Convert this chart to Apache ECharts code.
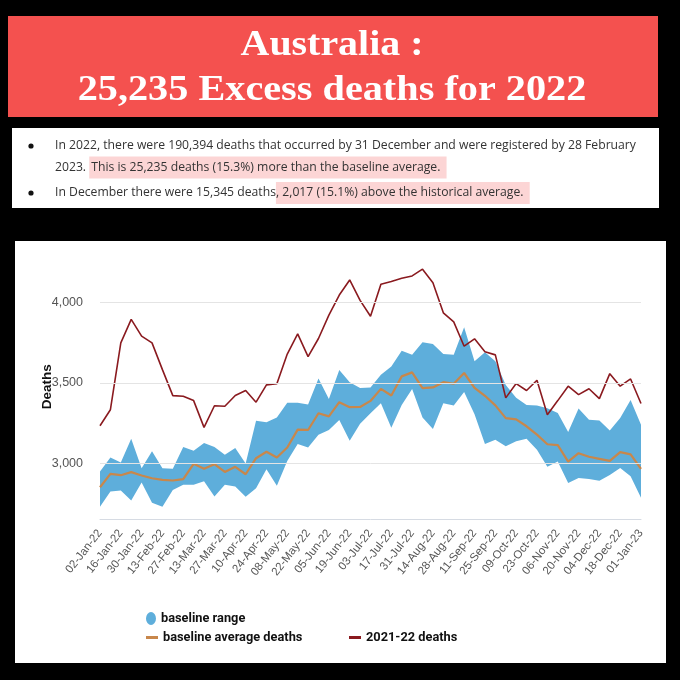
<!DOCTYPE html>
<html>
<head>
<meta charset="utf-8">
<script src="https://cdn.jsdelivr.net/npm/echarts@6/dist/echarts.min.js"></script>
<style>html,body{margin:0;padding:0;background:#000;}#c{width:680px;height:680px;}</style>
</head>
<body>
<div id="c"></div>
<script>
var weeks = ['02-Jan-22','09-Jan-22','16-Jan-22','23-Jan-22','30-Jan-22','06-Feb-22','13-Feb-22','20-Feb-22','27-Feb-22','06-Mar-22','13-Mar-22','20-Mar-22','27-Mar-22','03-Apr-22','10-Apr-22','17-Apr-22','24-Apr-22','01-May-22','08-May-22','15-May-22','22-May-22','29-May-22','05-Jun-22','12-Jun-22','19-Jun-22','26-Jun-22','03-Jul-22','10-Jul-22','17-Jul-22','24-Jul-22','31-Jul-22','07-Aug-22','14-Aug-22','21-Aug-22','28-Aug-22','04-Sep-22','11-Sep-22','18-Sep-22','25-Sep-22','02-Oct-22','09-Oct-22','16-Oct-22','23-Oct-22','30-Oct-22','06-Nov-22','13-Nov-22','20-Nov-22','27-Nov-22','04-Dec-22','11-Dec-22','18-Dec-22','25-Dec-22','01-Jan-23'];

var deaths2022 = [3233,3333,3750,3896,3792,3750,3583,3421,3417,3390,3223,3358,3355,3422,3453,3380,3488,3495,3680,3806,3664,3777,3923,4048,4142,4015,3916,4115,4132,4152,4167,4209,4125,3937,3881,3729,3775,3695,3675,3407,3496,3453,3517,3302,3390,3480,3427,3464,3402,3558,3480,3525,3372];

var baselineAvg = [2850,2933,2925,2944,2923,2906,2896,2892,2900,2996,2965,2994,2945,2977,2931,3031,3071,3035,3098,3209,3207,3311,3292,3380,3349,3350,3388,3463,3422,3541,3566,3468,3472,3505,3495,3562,3470,3420,3360,3281,3273,3230,3178,3118,3112,3010,3062,3040,3027,3014,3069,3055,2965];

var baselineUpper = [2948,3036,3004,3152,2969,3075,2969,2965,3100,3077,3125,3100,3052,3094,2998,3265,3255,3284,3376,3376,3365,3527,3400,3580,3505,3468,3472,3551,3603,3701,3676,3754,3743,3681,3676,3847,3635,3692,3635,3487,3407,3362,3360,3342,3313,3195,3341,3270,3266,3204,3282,3393,3240];

var baselineLower = [2729,2823,2829,2767,2879,2754,2729,2833,2865,2865,2888,2792,2865,2854,2791,2844,2962,2859,3014,3119,3098,3177,3207,3269,3140,3246,3311,3374,3221,3363,3463,3284,3213,3374,3359,3444,3305,3119,3146,3105,3136,3152,3084,2977,3011,2877,2907,2902,2890,2927,2970,2918,2784];

var yTicks = [3000, 3500, 4000];

var titleLine1 = 'Australia :';
var titleLine2 = '25,235 Excess deaths for 2022';

var bandSpan = baselineUpper.map(function (u, i) { return u - baselineLower[i]; });

var chart = echarts.init(document.getElementById('c'));

var legendText = { fontFamily: 'Roboto, Liberation Sans, Arial', fontSize: 12.8, fontWeight: 'bold', color: '#111' };
var bodyFont = '12.2px "Open Sans", sans-serif';
var titleFont = 'bold 35px "Liberation Serif", "DejaVu Serif", serif';

chart.setOption({
  backgroundColor: '#000',
  animation: false,
  graphic: [
    { type: 'rect', z: 0, shape: { x: 8, y: 16, width: 650, height: 101 }, style: { fill: '#f4514f' } },
    { type: 'text', z: 1, x: 332, y: 46, scaleX: 1.14, style: { text: titleLine1, fill: '#fff', font: titleFont, align: 'center', verticalAlign: 'middle' } },
    { type: 'text', z: 1, x: 332, y: 91, scaleX: 1.15, style: { text: titleLine2, fill: '#fff', font: titleFont, align: 'center', verticalAlign: 'middle' } },
    { type: 'rect', z: 0, shape: { x: 12, y: 128, width: 647, height: 80 }, style: { fill: '#fff' } },
    { type: 'circle', z: 1, shape: { cx: 31, cy: 146, r: 2.6 }, style: { fill: '#111' } },
    { type: 'circle', z: 1, shape: { cx: 31, cy: 193, r: 2.6 }, style: { fill: '#111' } },
    { type: 'text', z: 1, x: 55, y: 146, style: { text: 'In 2022, there were 190,394 deaths that occurred by 31 December and were registered by 28 February', fill: '#333', font: bodyFont, verticalAlign: 'middle' } },
    { type: 'text', z: 1, x: 55, y: 167.5, style: { text: '2023. {h|This is 25,235 deaths (15.3%) more than the baseline average. }', fill: '#333', font: bodyFont, verticalAlign: 'middle',
      rich: { h: { backgroundColor: '#fcd5d5', padding: [5, 3, 5, 2], fill: '#333', font: bodyFont } } } },
    { type: 'text', z: 1, x: 55, y: 193, style: { text: 'In December there were 15,345 deaths{h|, 2,017 (15.1%) above the historical average. }', fill: '#333', font: bodyFont, verticalAlign: 'middle',
      rich: { h: { backgroundColor: '#fcd5d5', padding: [5, 3, 5, 0], fill: '#333', font: bodyFont } } } },
    { type: 'rect', z: 0, shape: { x: 15, y: 241, width: 651, height: 422 }, style: { fill: '#fff' } }
  ],
  legend: [
    { left: 141, top: 607, icon: 'path://M5,0 A5,6.5 0 1,1 5,13 A5,6.5 0 1,1 5,0 Z', itemWidth: 10, itemHeight: 13, itemGap: 0, data: ['baseline range'], textStyle: legendText, selectedMode: false },
    { left: 141, top: 626, icon: 'rect', itemWidth: 12, itemHeight: 3, data: ['baseline average deaths'], textStyle: legendText, selectedMode: false },
    { left: 344, top: 626, icon: 'rect', itemWidth: 12, itemHeight: 3, data: ['2021-22 deaths'], textStyle: legendText, selectedMode: false }
  ],
  grid: { left: 100, right: 39, top: 254.6, height: 264.4 },
  xAxis: {
    type: 'category',
    data: weeks,
    boundaryGap: false,
    axisLine: { show: true, lineStyle: { color: '#d6dbe3', width: 1 } },
    axisTick: { show: false },
    axisLabel: { interval: 1, rotate: 52, fontSize: 11.5, color: '#555', margin: 12, fontFamily: 'Liberation Sans, Arial' }
  },
  yAxis: {
    type: 'value',
    min: 2652,
    max: 4300,
    splitLine: { show: false },
    axisLine: { show: false },
    axisTick: { show: false },
    axisLabel: {
      customValues: yTicks,
      color: '#555',
      fontSize: 12.5,
      margin: 17,
      fontFamily: 'Liberation Sans, Arial',
      formatter: function (v) { return v.toLocaleString('en-US'); }
    },
    name: 'Deaths',
    nameLocation: 'middle',
    nameGap: 46,
    nameMoveOverlap: false,
    nameTextStyle: { fontWeight: 'bold', fontSize: 13.5, color: '#111', fontFamily: 'Liberation Sans, Arial' }
  },
  series: [
    {
      type: 'line', stack: 'band', data: baselineLower, symbol: 'none', silent: true,
      lineStyle: { opacity: 0 }, areaStyle: { opacity: 0 },
      markLine: {
        silent: true, symbol: 'none', label: { show: false },
        lineStyle: { color: '#e4e4e4', width: 1, type: 'solid' },
        data: yTicks.map(function (t) { return { yAxis: t }; })
      }
    },
    {
      name: 'baseline range', type: 'line', stack: 'band', data: bandSpan, symbol: 'none', silent: true,
      itemStyle: { color: '#5eaedb' },
      lineStyle: { opacity: 0 }, areaStyle: { color: '#5eaedb', opacity: 1 }
    },
    {
      name: 'baseline average deaths', type: 'line', data: baselineAvg, symbol: 'none',
      itemStyle: { color: '#c8874b' }, lineStyle: { color: '#c8874b', width: 2.2 }
    },
    {
      name: '2021-22 deaths', type: 'line', data: deaths2022, symbol: 'none',
      itemStyle: { color: '#8a1a1f' }, lineStyle: { color: '#8a1a1f', width: 1.6 }
    }
  ]
});
</script>
</body>
</html>
